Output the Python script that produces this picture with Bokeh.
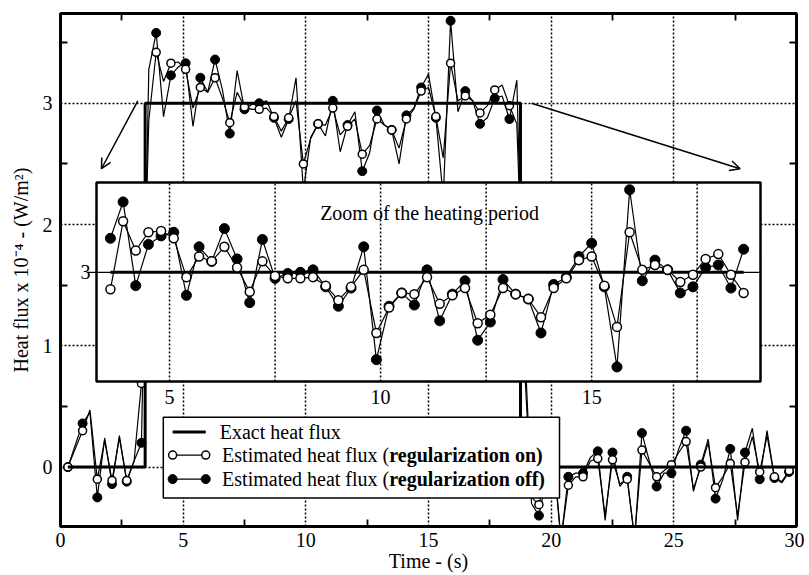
import numpy as np
from bokeh.plotting import figure
from bokeh.models import Range1d, LinearAxis, FixedTicker, Arrow, OpenHead, Label
from bokeh.embed import file_html
from bokeh.resources import INLINE

# ---------------- data ----------------
time_s = [0.3, 0.6, 0.9, 1.2, 1.5, 1.8, 2.1, 2.4, 2.7, 3.0,
          3.3, 3.6, 3.9, 4.2, 4.5, 4.8, 5.1, 5.4, 5.7, 6.0,
          6.3, 6.6, 6.9, 7.2, 7.5, 7.8, 8.1, 8.4, 8.7, 9.0,
          9.3, 9.6, 9.9, 10.2, 10.5, 10.8, 11.1, 11.4, 11.7, 12.0,
          12.3, 12.6, 12.9, 13.2, 13.5, 13.8, 14.1, 14.4, 14.7, 15.0,
          15.3, 15.6, 15.9, 16.2, 16.5, 16.8, 17.1, 17.4, 17.7, 18.0,
          18.3, 18.6, 18.9, 19.2, 19.5, 19.8, 20.1, 20.4, 20.7, 21.0,
          21.3, 21.6, 21.9, 22.2, 22.5, 22.8, 23.1, 23.4, 23.7, 24.0,
          24.3, 24.6, 24.9, 25.2, 25.5, 25.8, 26.1, 26.4, 26.7, 27.0,
          27.3, 27.6, 27.9, 28.2, 28.5, 28.8, 29.1, 29.4, 29.7]

flux_reg_off = [0.00, 0.18, 0.36, 0.45, -0.25, 0.24, -0.14, 0.26, -0.12, 0.05,
                0.20, 3.28, 3.58, 2.89, 3.23, 3.30, 3.33, 2.81, 3.21, 3.09,
                3.36, 3.11, 2.75, 3.27, 2.95, 2.99, 3.00, 3.02, 2.88, 2.72,
                2.87, 3.21, 2.28, 2.72, 2.83, 2.73, 3.02, 2.60, 2.82, 2.93,
                2.44, 2.59, 2.94, 2.82, 2.78, 2.50, 2.90, 2.96, 3.13, 3.24,
                2.88, 2.22, 3.68, 2.93, 3.10, 3.02, 2.83, 2.88, 3.04, 3.06,
                2.87, 3.19, 0.90, -0.30, -0.40, -0.10, 0.10, -0.60, -0.08, -0.05,
                -0.05, 0.08, 0.13, -0.44, 0.12, -0.16, -0.08, -0.60, 0.28, 0.05,
                -0.16, -0.05, -0.05, 0.15, 0.30, -0.20, 0.02, 0.23, -0.26, -0.10,
                0.15, -0.44, 0.12, 0.32, -0.10, 0.30, -0.09, -0.13, -0.04]

flux_reg_on = [0.00, 0.15, 0.30, 0.47, -0.10, 0.22, -0.11, 0.24, -0.11, 0.05,
               0.69, 2.86, 3.42, 3.18, 3.33, 3.34, 3.28, 2.96, 3.13, 3.09,
               3.21, 3.04, 2.84, 3.09, 2.97, 2.95, 2.95, 2.96, 2.89, 2.77,
               2.88, 3.02, 2.50, 2.71, 2.83, 2.82, 2.96, 2.74, 2.81, 2.87,
               2.58, 2.65, 2.87, 2.82, 2.78, 2.63, 2.87, 2.95, 3.10, 3.13,
               2.89, 2.55, 3.33, 3.02, 3.06, 3.02, 2.92, 2.98, 3.11, 3.15,
               2.98, 2.83, 1.10, -0.25, -0.31, -0.05, 0.05, -0.60, -0.15, -0.08,
               -0.08, 0.05, 0.07, -0.40, 0.06, -0.14, -0.10, -0.58, 0.14, 0.03,
               -0.08, -0.03, 0.02, 0.12, 0.21, -0.18, 0.00, 0.20, -0.17, -0.08,
               0.03, -0.40, 0.04, 0.25, -0.04, 0.26, -0.08, -0.12, -0.03]

exact_t = [0.3, 3.45, 3.45, 18.75, 18.75, 30.0]
exact_q = [0.0, 0.0, 3.0, 3.0, 0.0, 0.0]

x_ticks = [0, 5, 10, 15, 20, 25, 30]
x_minor = [2.5, 7.5, 12.5, 17.5, 22.5, 27.5]
y_ticks = [0, 1, 2, 3]
y_minor = [0.5, 1.5, 2.5, 3.5]
inset_x_labels = [5, 10, 15]
inset_grid_x = [5, 7.5, 10, 12.5, 15, 17.5]
inset_first, inset_last = 11, 62   # sample window of the zoom (3.6 s .. 18.6 s)

FONT = "Liberation Serif"
FS = "20px"
GRID_DASH = "2 2"

# ---------------- main figure ----------------
FW, FH = 736, 513
p = figure(frame_width=FW, frame_height=FH, x_range=Range1d(0, 30), y_range=Range1d(-0.49, 3.74),
           output_backend="svg", toolbar_location=None,
           min_border_left=60, min_border_top=13, min_border_right=8, min_border_bottom=10)
p.background_fill_color = "white"
p.border_fill_color = "white"
p.outline_line_color = "black"
p.outline_line_width = 3

def style_axis(ax, ticks, minor):
    ax.ticker = FixedTicker(ticks=ticks, minor_ticks=minor)
    ax.major_tick_in = 0
    ax.major_tick_out = 0
    ax.minor_tick_in = 7
    ax.minor_tick_out = 0
    ax.minor_tick_line_width = 1.8
    ax.minor_tick_line_color = "black"
    ax.axis_line_color = None
    ax.major_label_text_font = FONT
    ax.major_label_text_font_size = FS
    ax.major_label_text_color = "black"
    ax.axis_label_text_font = FONT
    ax.axis_label_text_font_size = FS
    ax.axis_label_text_font_style = "normal"
    ax.axis_label_text_color = "black"

style_axis(p.xaxis[0], x_ticks, x_minor)
style_axis(p.yaxis[0], y_ticks, y_minor)
p.xaxis[0].axis_label = "Time - (s)"
p.xaxis[0].major_label_standoff = 6
p.xaxis[0].axis_label_standoff = 0
p.yaxis[0].axis_label = "Heat flux x 10\u207b\u2074 - (W/m\u00b2)"
p.yaxis[0].major_label_standoff = 8
p.yaxis[0].axis_label_standoff = 8

# mirrored axes: minor ticks only, no labels
top_ax = LinearAxis()
style_axis(top_ax, [], x_minor)
top_ax.major_label_standoff = 0
p.add_layout(top_ax, "above")
right_ax = LinearAxis()
style_axis(right_ax, [], y_minor)
right_ax.major_label_standoff = 0
p.add_layout(right_ax, "right")

p.xgrid.ticker = FixedTicker(ticks=[5, 10, 15, 20, 25])
p.ygrid.ticker = FixedTicker(ticks=y_ticks)
for g in (p.xgrid[0], p.ygrid[0]):
    g.grid_line_color = "black"
    g.grid_line_dash = GRID_DASH
    g.grid_line_width = 1.5

t_arr = np.array(time_s)
off_arr = np.array(flux_reg_off)
on_arr = np.array(flux_reg_on)

# main curves (markers every second sample)
p.line(t_arr, off_arr, line_color="black", line_width=1.2)
p.scatter(t_arr[::2], off_arr[::2], marker="circle", size=9, fill_color="black", line_color="black")
p.line(t_arr, on_arr, line_color="black", line_width=1.2)
p.scatter(t_arr[::2], on_arr[::2], marker="circle", size=8, fill_color="white", line_color="black", line_width=1.5)
p.line(exact_t, exact_q, line_color="black", line_width=3)

# arrows toward the zoom
p.add_layout(Arrow(end=OpenHead(size=10, line_width=1.5, line_color="black"),
                   x_start=3.15, y_start=3.02, x_end=1.67, y_end=2.46,
                   line_width=1.5, line_color="black"))
p.add_layout(Arrow(end=OpenHead(size=10, line_width=1.5, line_color="black"),
                   x_start=19.2, y_start=3.0, x_end=27.7, y_end=2.46,
                   line_width=1.5, line_color="black"))

# ---------------- inset (zoom of heating period) ----------------
ibox = (36, 700, 169, 368)        # frame px: left, right, top, bottom
ix_lim = (3.27, 19.0)
iy_lim = (2.10, 3.74)
sx = (ix_lim[1] - ix_lim[0]) / (ibox[1] - ibox[0])
sy = (iy_lim[1] - iy_lim[0]) / (ibox[3] - ibox[2])
p.extra_x_ranges = {"ix": Range1d(ix_lim[0] - ibox[0] * sx, ix_lim[1] + (FW - ibox[1]) * sx)}
p.extra_y_ranges = {"iy": Range1d(iy_lim[0] - (FH - ibox[3]) * sy, iy_lim[1] + ibox[2] * sy)}
kw = dict(x_range_name="ix", y_range_name="iy")

p.quad(left=[ix_lim[0]], right=[ix_lim[1]], bottom=[iy_lim[0]], top=[iy_lim[1]],
       fill_color="white", line_color=None, **kw)
p.segment(x0=inset_grid_x, y0=[iy_lim[0]] * len(inset_grid_x), x1=inset_grid_x, y1=[iy_lim[1]] * len(inset_grid_x),
          line_color="black", line_dash=GRID_DASH, line_width=1.5, **kw)

ti = t_arr[inset_first:inset_last]
heat = exact_q[2]
p.segment(x0=[ix_lim[0] - 0.2], y0=[heat], x1=[ix_lim[1]], y1=[heat], line_color="black", line_width=1.2, **kw)
p.line([ti[0], ti[-1]], [heat, heat], line_color="black", line_width=3, **kw)
p.line(ti, off_arr[inset_first:inset_last], line_color="black", line_width=1.2, **kw)
p.scatter(ti, off_arr[inset_first:inset_last], marker="circle", size=10, fill_color="black", line_color="black", **kw)
p.line(ti, on_arr[inset_first:inset_last], line_color="black", line_width=1.2, **kw)
p.scatter(ti, on_arr[inset_first:inset_last], marker="circle", size=9, fill_color="white", line_color="black",
          line_width=1.5, **kw)
p.quad(left=[ix_lim[0]], right=[ix_lim[1]], bottom=[iy_lim[0]], top=[iy_lim[1]],
       fill_color=None, line_color="black", line_width=2.5, **kw)

for xv in inset_x_labels:
    p.add_layout(Label(x=xv, y=iy_lim[0], y_offset=-8, text=str(xv), text_align="center", text_baseline="top",
                       text_font=FONT, text_font_size=FS, text_color="black", **kw))
p.add_layout(Label(x=ix_lim[0], y=heat, x_offset=-6, text="3", text_align="right", text_baseline="middle",
                   text_font=FONT, text_font_size=FS, text_color="black", **kw))
p.add_layout(Label(x=11.16, y=3.49, text="Zoom of the heating period", text_align="center", text_baseline="middle",
                   text_font=FONT, text_font_size=FS, text_color="black", **kw))

# ---------------- legend (built by hand, mixed bold) ----------------
lg_l, lg_r, lg_t, lg_b = 4.19, 20.34, 0.41, -0.256
rows = [0.289, 0.099, -0.099]
sx0, sx1 = 4.57, 5.92
txt_x, split_x = 6.49, 13.4
p.quad(left=[lg_l], right=[lg_r], bottom=[lg_b], top=[lg_t], fill_color="white", line_color="black", line_width=1.5)
p.segment(x0=[sx0], y0=[rows[0]], x1=[sx1], y1=[rows[0]], line_color="black", line_width=3)
p.segment(x0=[sx0, sx0], y0=rows[1:], x1=[sx1, sx1], y1=rows[1:], line_color="black", line_width=1.2)
p.scatter([sx0, sx1], [rows[1]] * 2, marker="circle", size=8, fill_color="white", line_color="black", line_width=1.5)
p.scatter([sx0, sx1], [rows[2]] * 2, marker="circle", size=9, fill_color="black", line_color="black")

lab = dict(text_font=FONT, text_font_size=FS, text_color="black", text_baseline="middle")
p.add_layout(Label(x=txt_x, y=rows[0], text="Exact heat flux", text_align="left", **lab))
p.add_layout(Label(x=split_x, y=rows[1], text="Estimated heat flux (", text_align="right", **lab))
p.add_layout(Label(x=split_x, y=rows[1], text="regularization on)", text_align="left", text_font_style="bold", **lab))
p.add_layout(Label(x=split_x, y=rows[2], text="Estimated heat flux (", text_align="right", **lab))
p.add_layout(Label(x=split_x, y=rows[2], text="regularization off)", text_align="left", text_font_style="bold", **lab))

open("out.html", "w").write(file_html(p, INLINE))
